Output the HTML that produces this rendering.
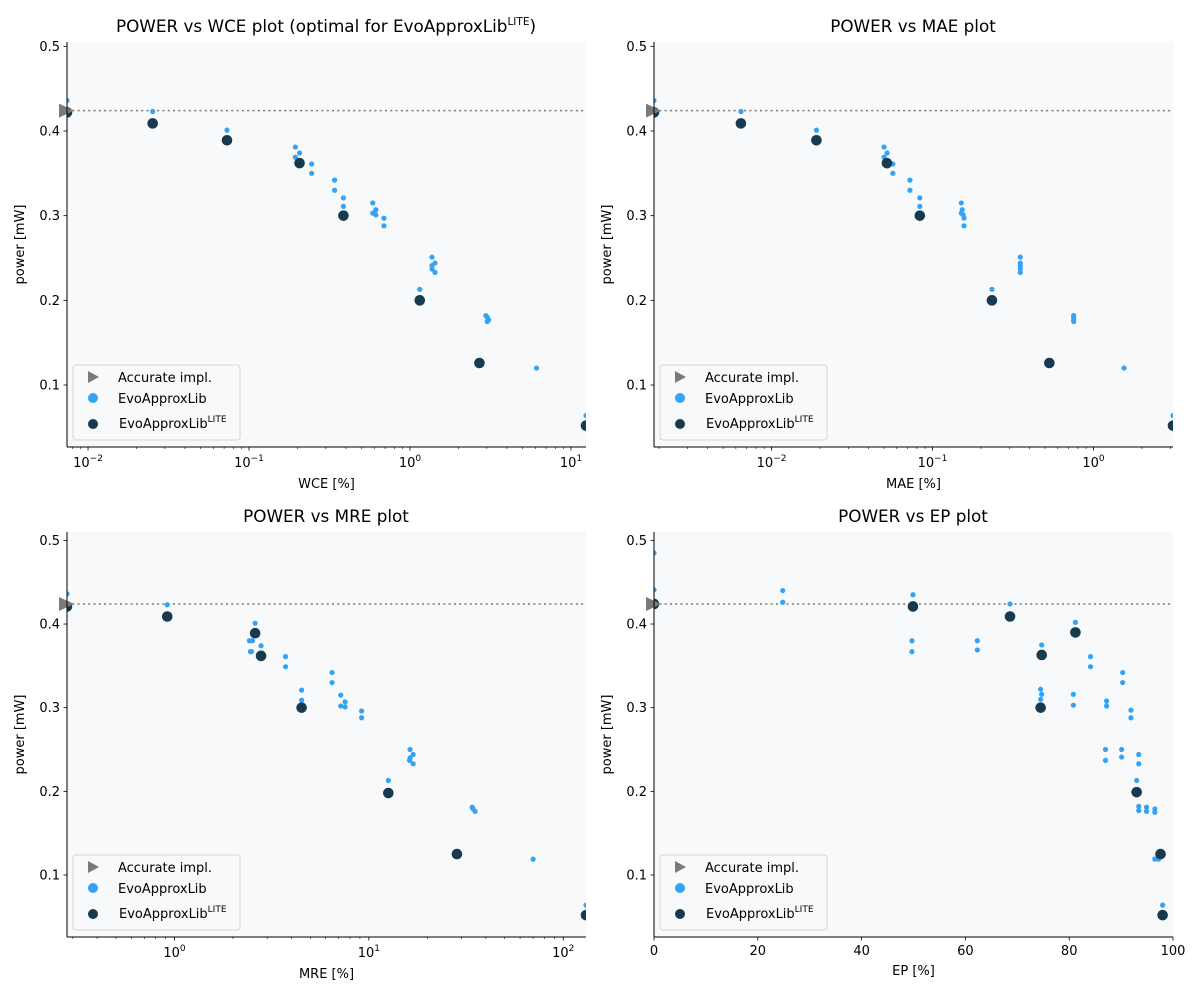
<!DOCTYPE html>
<html><head><meta charset="utf-8"><style>
html,body{margin:0;padding:0;background:#fff;}
svg{display:block;font-family:"DejaVu Sans","Liberation Sans",sans-serif;}
</style></head><body>
<svg id="fig" width="1200" height="1000" viewBox="0 0 1200 1000"></svg>
<script>
// ---- data ----
const accuratePower = 0.424;
// WCE
const wceBlueX = [0.0074,0.0252,0.0730,0.194,0.206,0.194,0.245,0.245,0.340,0.340,0.386,0.386,0.587,0.614,0.587,0.614,0.689,0.689,1.37,1.43,1.37,1.37,1.43,1.15,2.96,3.02,3.08,3.02,6.11,12.4];
const wceBlueY = [0.436,0.423,0.401,0.381,0.374,0.369,0.361,0.350,0.342,0.330,0.321,0.311,0.315,0.307,0.303,0.301,0.297,0.288,0.251,0.244,0.241,0.237,0.233,0.213,0.182,0.180,0.177,0.175,0.120,0.064];
const wceLiteX = [0.0074,0.0252,0.0730,0.206,0.386,1.15,2.70,12.4];
const wceLiteY = [0.422,0.409,0.389,0.362,0.300,0.200,0.126,0.052];
// MAE
const maeBlueX = [0.00186,0.00645,0.0190,0.0500,0.0522,0.0500,0.0567,0.0567,0.0724,0.0724,0.0834,0.0834,0.151,0.153,0.151,0.155,0.157,0.157,0.351,0.351,0.351,0.351,0.351,0.234,0.753,0.753,0.753,0.753,1.55,3.12];
const maeBlueY = [0.436,0.423,0.401,0.381,0.374,0.369,0.361,0.350,0.342,0.330,0.321,0.311,0.315,0.307,0.303,0.301,0.297,0.288,0.251,0.244,0.241,0.237,0.233,0.213,0.182,0.180,0.177,0.175,0.120,0.064];
const maeLiteX = [0.00186,0.00645,0.0190,0.0521,0.0834,0.234,0.532,3.12];
const maeLiteY = [0.422,0.409,0.389,0.362,0.300,0.200,0.126,0.052];
// MRE
const mreBlueX = [0.28,0.918,2.60,2.43,2.52,2.79,2.46,2.49,3.73,3.73,6.47,6.47,4.51,4.51,7.17,7.55,7.17,7.55,9.18,9.18,16.3,16.9,16.3,16.2,16.9,12.6,34.0,34.4,35.2,70.0,131];
const mreBlueY = [0.436,0.423,0.401,0.380,0.380,0.374,0.367,0.367,0.361,0.349,0.342,0.330,0.321,0.309,0.315,0.307,0.302,0.301,0.296,0.288,0.250,0.244,0.240,0.237,0.233,0.213,0.181,0.179,0.176,0.119,0.064];
const mreLiteX = [0.28,0.918,2.60,2.79,4.51,12.6,28.4,131];
const mreLiteY = [0.421,0.409,0.389,0.362,0.300,0.198,0.125,0.052];
// EP
const epBlueX = [0,0,24.8,24.8,49.9,68.6,49.7,49.7,62.3,62.3,81.2,74.7,84.1,84.1,90.3,90.3,74.5,74.7,74.5,80.8,80.8,87.2,87.2,91.9,91.9,87.0,87.0,90.1,90.1,93.4,93.4,93.0,93.4,93.4,94.9,94.9,96.5,96.5,96.5,97.2,98.0];
const epBlueY = [0.485,0.441,0.440,0.426,0.435,0.424,0.380,0.367,0.380,0.369,0.402,0.375,0.361,0.349,0.342,0.330,0.322,0.316,0.310,0.316,0.303,0.308,0.302,0.297,0.288,0.250,0.237,0.250,0.241,0.244,0.233,0.213,0.182,0.177,0.181,0.176,0.179,0.175,0.119,0.119,0.064];
const epLiteX = [0,49.9,68.6,81.2,74.7,74.5,93.0,97.6,98.0];
const epLiteY = [0.424,0.421,0.409,0.390,0.363,0.300,0.199,0.125,0.052];
const yTicks = [0.1,0.2,0.3,0.4,0.5];
const epTicks = [0,20,40,60,80,100];

const NS = "http://www.w3.org/2000/svg";
const svg = document.getElementById('fig');
function mk(tag, attrs, parent){
  const e = document.createElementNS(NS, tag);
  for (const k in attrs) e.setAttribute(k, attrs[k]);
  (parent||svg).appendChild(e);
  return e;
}
const BLUE = "#34a3f4", LITE = "#173a4e", GRAY = "#7a7a7a";

const panels = [
  {key:'wce', title:'POWER vs WCE plot (optimal for EvoApproxLib', titleSup:true, xlabel:'WCE [%]', log:true, xlim:[0.0074,12.4], x0:67,x1:586,y0:42,y1:447, ylim:[0.0268,0.5051], bx:wceBlueX, by:wceBlueY, lx:wceLiteX, ly:wceLiteY, tx:326},
  {key:'mae', title:'POWER vs MAE plot', xlabel:'MAE [%]', log:true, xlim:[0.00186,3.12], x0:654,x1:1173,y0:42,y1:447, ylim:[0.0268,0.5051], bx:maeBlueX, by:maeBlueY, lx:maeLiteX, ly:maeLiteY, tx:913},
  {key:'mre', title:'POWER vs MRE plot', xlabel:'MRE [%]', log:true, xlim:[0.28,131], x0:67,x1:586,y0:532,y1:937, ylim:[0.0259,0.51], bx:mreBlueX, by:mreBlueY, lx:mreLiteX, ly:mreLiteY, tx:326},
  {key:'ep', title:'POWER vs EP plot', xlabel:'EP [%]', log:false, xlim:[0,100], x0:654,x1:1173,y0:532,y1:937, ylim:[0.0259,0.51], bx:epBlueX, by:epBlueY, lx:epLiteX, ly:epLiteY, tx:913}
];

panels.forEach(p => {
  const g = mk('g', {});
  
  
  const sx = v => p.log
    ? p.x0 + (Math.log10(v)-Math.log10(p.xlim[0]))/(Math.log10(p.xlim[1])-Math.log10(p.xlim[0]))*(p.x1-p.x0)
    : p.x0 + (v-p.xlim[0])/(p.xlim[1]-p.xlim[0])*(p.x1-p.x0);
  const sy = v => p.y1 - (v-p.ylim[0])/(p.ylim[1]-p.ylim[0])*(p.y1-p.y0);

  const bg = mk('rect', {x:p.x0,y:p.y0,width:p.x1-p.x0,height:p.y1-p.y0,fill:'#f8f9fb'}, g);
  
  
  const cid = 'clip-' + p.key;
  const cp = mk('clipPath', {id:cid}, g);
  mk('rect', {x:p.x0,y:p.y0,width:p.x1-p.x0,height:p.y1-p.y0}, cp);

  // title
  const t = mk('text', {x:p.tx, y:p.y0-10, 'text-anchor':'middle','font-size':16.8, fill:'#000'}, g);
  
  
  if (p.titleSup) {
    t.appendChild(document.createTextNode(p.title));
    const ts = mk('tspan', {'font-size':10.5, dy:-7}, t); ts.textContent = 'LITE';
    const tc = mk('tspan', {dy:7}, t); tc.textContent = ')';
  } else t.textContent = p.title;

  // y ticks
  yTicks.forEach(v => {
    const y = sy(v);
    mk('line', {x1:p.x0-3.5,x2:p.x0,y1:y,y2:y,stroke:'#000','stroke-width':0.8}, g);
    const tl = mk('text', {x:p.x0-7, y:y+4.5, 'text-anchor':'end','font-size':13}, g);
    
    
    tl.textContent = v.toFixed(1);
  });
  const yl = mk('text', {x:p.x0-43, y:(p.y0+p.y1)/2, 'text-anchor':'middle','font-size':13, transform:`rotate(-90 ${p.x0-43} ${(p.y0+p.y1)/2})`}, g);
  
  
  yl.textContent = 'power [mW]';

  // x ticks
  if (p.log) {
    const lo = Math.floor(Math.log10(p.xlim[0])), hi = Math.ceil(Math.log10(p.xlim[1]));
    for (let d = lo; d <= hi; d++) {
      for (let m = 1; m <= 9; m++) {
        const v = m * Math.pow(10, d);
        if (v < p.xlim[0]*0.999 || v > p.xlim[1]*1.001) continue;
        const x = sx(v);
        mk('line', {x1:x,x2:x,y1:p.y1,y2:p.y1+(m===1?3.5:2),stroke:'#000','stroke-width':m===1?0.8:0.6}, g);
        if (m === 1) {
          const tl = mk('text', {x:x, y:p.y1+20, 'text-anchor':'middle','font-size':13}, g);
          
          
          tl.appendChild(document.createTextNode('10'));
          const s = mk('tspan', {'font-size':9, dy:-6}, tl); s.textContent = (d<0?'\u2212'+(-d):''+d);
        }
      }
    }
  } else {
    epTicks.forEach(v => {
      const x = sx(v);
      mk('line', {x1:x,x2:x,y1:p.y1,y2:p.y1+3.5,stroke:'#000','stroke-width':0.8}, g);
      const tl = mk('text', {x:x, y:p.y1+18, 'text-anchor':'middle','font-size':13}, g);
      
      
      tl.textContent = v;
    });
  }
  const xl = mk('text', {x:(p.x0+p.x1)/2, y:p.y1+(p.log?41:38), 'text-anchor':'middle','font-size':13}, g);
  
  
  xl.textContent = p.xlabel;

  // data layer
  const dg = mk('g', {'clip-path':`url(#${cid})`}, g);
  const ay = sy(accuratePower);
  const ln = mk('line', {x1:p.x0,x2:p.x1,y1:ay,y2:ay,stroke:'#777','stroke-width':1.5,'stroke-dasharray':'2,3.3'}, dg);
  
  
  p.bx.forEach((v,i) => {
    const c = mk('circle', {cx:sx(v), cy:sy(p.by[i]), r:2.6, fill:BLUE}, dg);
    
    
  });
  p.lx.forEach((v,i) => {
    const c = mk('circle', {cx:sx(v), cy:sy(p.ly[i]), r:5.3, fill:LITE}, dg);
    
    
  });
  const tri = mk('polygon', {points:`${p.x0-8},${ay-7} ${p.x0+7},${ay} ${p.x0-8},${ay+7}`, fill:GRAY}, g);
  
  

  // spines
  mk('line', {x1:p.x0,x2:p.x0,y1:p.y0,y2:p.y1,stroke:'#000','stroke-width':1}, g);
  mk('line', {x1:p.x0,x2:p.x1,y1:p.y1,y2:p.y1,stroke:'#000','stroke-width':1}, g);

  // legend
  const lg = mk('g', {}, g);
  
  
  const lx0 = p.x0+6, ly0 = p.y1-82;
  mk('rect', {x:lx0, y:ly0, width:167, height:75, rx:3, fill:'#f8f9fb', 'fill-opacity':0.8, stroke:'#d5d5d5', 'stroke-width':1}, lg);
  mk('polygon', {points:`${lx0+15},${ly0+6} ${lx0+26},${ly0+12} ${lx0+15},${ly0+18}`, fill:GRAY}, lg);
  const e1 = mk('text', {x:lx0+45, y:ly0+17, 'font-size':13}, lg); e1.textContent = 'Accurate impl.';
  
  
  mk('circle', {cx:lx0+20, cy:ly0+33, r:5, fill:BLUE}, lg);
  const e2 = mk('text', {x:lx0+45, y:ly0+38, 'font-size':13}, lg); e2.textContent = 'EvoApproxLib';
  
  
  mk('circle', {cx:lx0+20, cy:ly0+59, r:5, fill:LITE}, lg);
  const e3 = mk('text', {x:lx0+46, y:ly0+63, 'font-size':13}, lg);
  
  
  e3.appendChild(document.createTextNode('EvoApproxLib'));
  const sp = mk('tspan', {'font-size':9, dy:-6}, e3); sp.textContent = 'LITE';
});
</script>
</body></html>
